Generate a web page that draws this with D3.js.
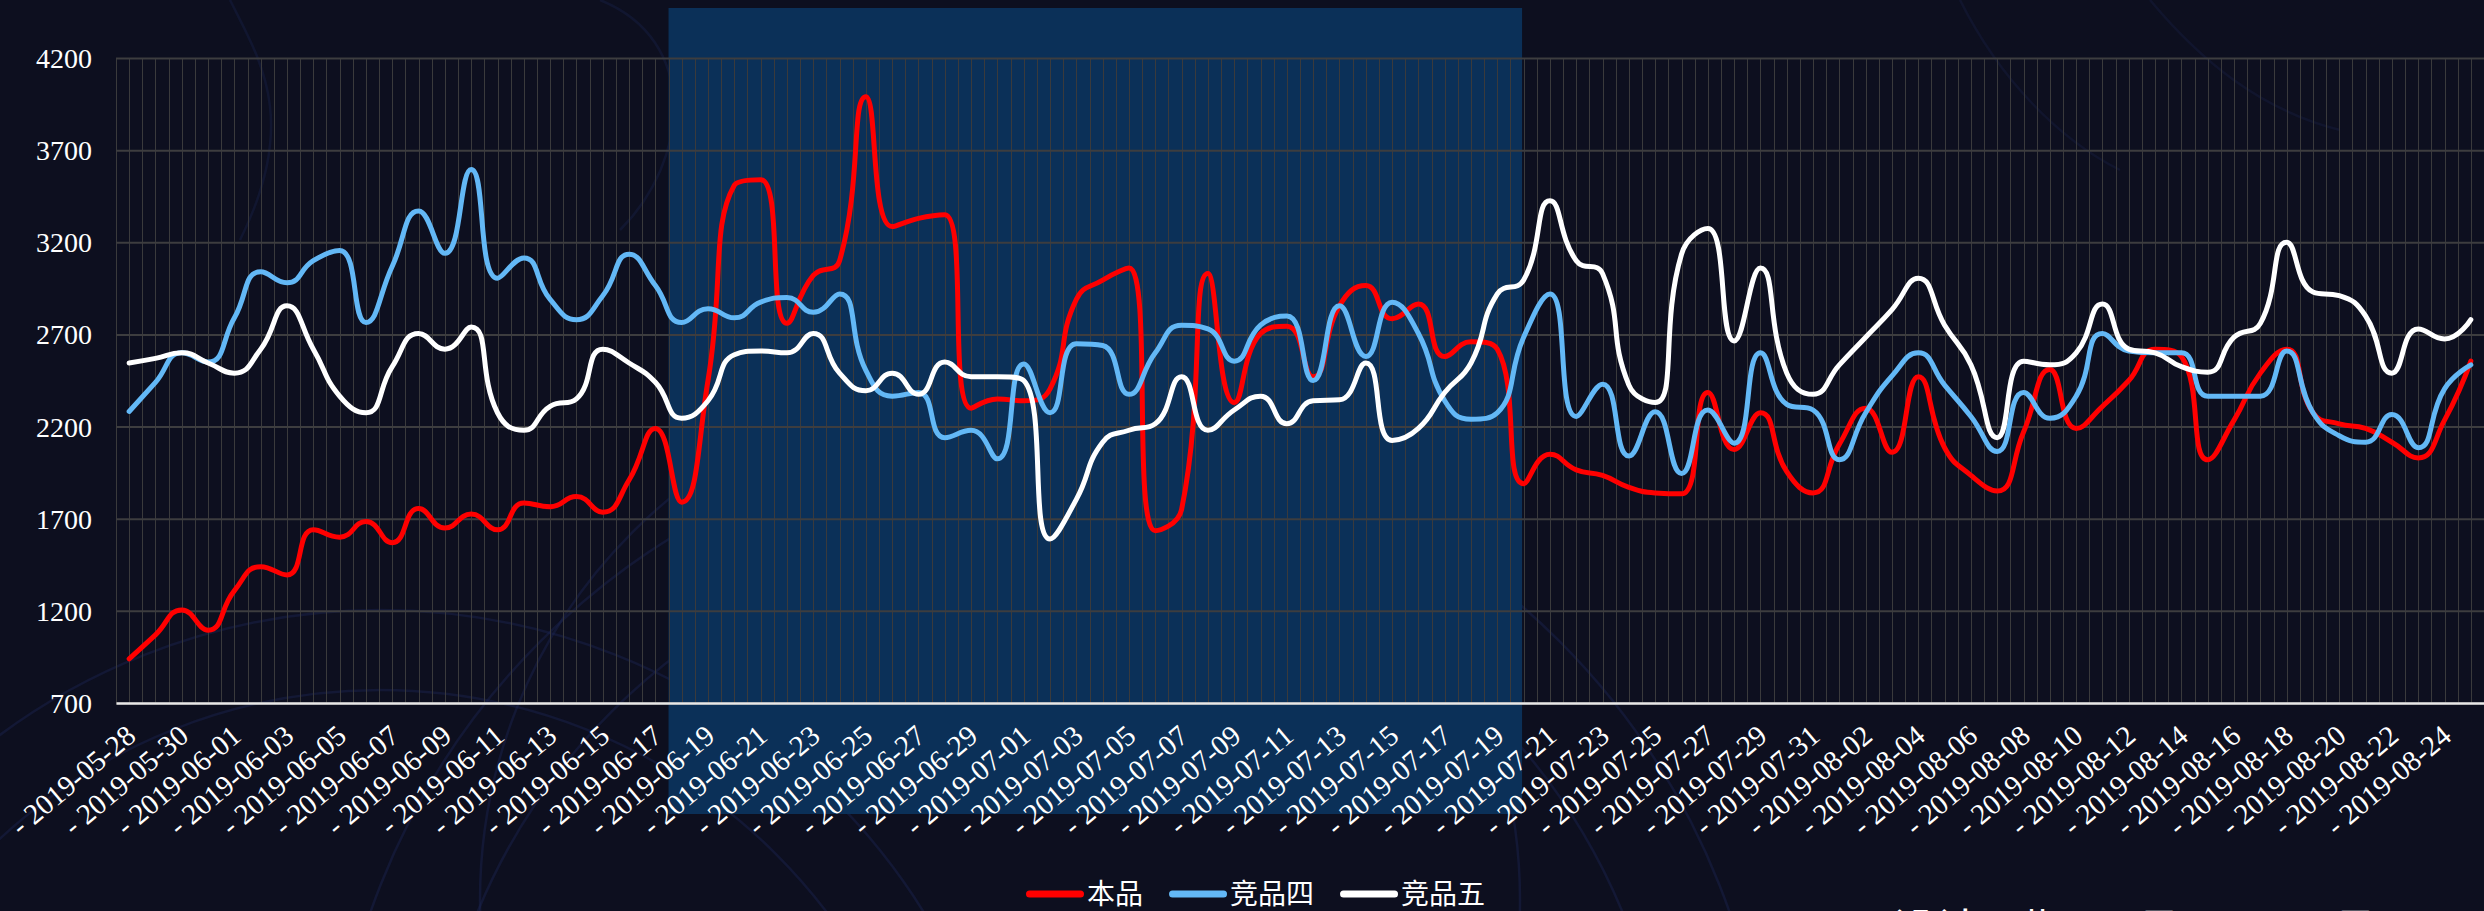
<!DOCTYPE html>
<html><head><meta charset="utf-8">
<script src="https://cdn.jsdelivr.net/npm/d3@7"></script>
<style>html,body{margin:0;padding:0;background:#0d0f1f;overflow:hidden}</style>
</head><body><svg id="chart" width="2484" height="911"></svg>
<script>
const dates = [
"2019-05-28","2019-05-29","2019-05-30","2019-05-31",
"2019-06-01","2019-06-02","2019-06-03","2019-06-04","2019-06-05","2019-06-06","2019-06-07","2019-06-08","2019-06-09","2019-06-10",
"2019-06-11","2019-06-12","2019-06-13","2019-06-14","2019-06-15","2019-06-16","2019-06-17","2019-06-18","2019-06-19","2019-06-20",
"2019-06-21","2019-06-22","2019-06-23","2019-06-24","2019-06-25","2019-06-26","2019-06-27","2019-06-28","2019-06-29","2019-06-30",
"2019-07-01","2019-07-02","2019-07-03","2019-07-04","2019-07-05","2019-07-06","2019-07-07","2019-07-08","2019-07-09","2019-07-10",
"2019-07-11","2019-07-12","2019-07-13","2019-07-14","2019-07-15","2019-07-16","2019-07-17","2019-07-18","2019-07-19","2019-07-20",
"2019-07-21","2019-07-22","2019-07-23","2019-07-24","2019-07-25","2019-07-26","2019-07-27","2019-07-28","2019-07-29","2019-07-30","2019-07-31",
"2019-08-01","2019-08-02","2019-08-03","2019-08-04","2019-08-05","2019-08-06","2019-08-07","2019-08-08","2019-08-09","2019-08-10",
"2019-08-11","2019-08-12","2019-08-13","2019-08-14","2019-08-15","2019-08-16","2019-08-17","2019-08-18","2019-08-19","2019-08-20",
"2019-08-21","2019-08-22","2019-08-23","2019-08-24","2019-08-25"];

const seriesNames = ["本品", "竞品四", "竞品五"];
const seriesColors = ["#ff0000", "#63b8f6", "#ffffff"];

const benpin = [940,1070,1205,1095,1310,1440,1395,1640,1600,1685,1570,1755,1650,1725,1640,1785,1765,1820,1735,1910,
2190,1790,2450,3510,3540,2760,3020,3100,3990,3285,3330,3350,2300,2350,2340,2405,2890,2995,3060,1635,
1750,3030,2330,2705,2745,2470,2855,2965,2785,2865,2580,2660,2620,1890,2050,1965,1935,1870,1840,1835,
2385,2075,2275,1955,1840,2105,2300,2060,2470,2085,1935,1850,2170,2510,2190,2310,2450,2620,2580,2020,
2235,2490,2620,2275,2215,2190,2115,2030,2235,2555];

const jingpin4 = [2282,2440,2600,2550,2790,3040,2980,3100,3155,2765,3070,3370,3140,3595,3005,3115,2890,2780,2910,3135,
2965,2765,2840,2790,2875,2900,2820,2920,2505,2365,2385,2140,2180,2025,2540,2275,2650,2640,2375,2600,
2750,2730,2555,2750,2800,2450,2855,2580,2875,2705,2340,2240,2275,2685,2920,2255,2430,2040,2280,1945,
2290,2110,2600,2320,2290,2020,2275,2475,2600,2425,2255,2065,2385,2245,2365,2705,2610,2600,2600,2365,
2365,2365,2610,2275,2150,2115,2265,2085,2405,2535];

const jingpin5 = [2545,2570,2600,2545,2490,2620,2855,2620,2365,2275,2525,2705,2620,2740,2275,2180,2310,2350,2620,2545,
2440,2245,2340,2590,2610,2600,2705,2490,2395,2490,2375,2550,2470,2470,2450,1590,1805,2115,2180,2215,
2470,2180,2290,2365,2215,2340,2345,2545,2125,2190,2385,2545,2920,2995,3425,3100,3030,2425,2330,3135,
3275,2665,3060,2490,2375,2535,2685,2835,3005,2750,2535,2140,2555,2535,2600,2865,2620,2600,2525,2495,
2685,2760,3200,2930,2910,2800,2490,2730,2675,2780];

const yTicks = [700, 1200, 1700, 2200, 2700, 3200, 3700, 4200];
const xTickLabels = dates.filter((d, i) => i % 2 === 0);
const highlightRange = ["2019-06-18", "2019-07-20"];
const footnote = "设计周期：6月19日 - 7月19日";

// ---------- layout ----------
const W = 2484, H = 911;
const plot = {left: 116, right: 2484, top: 58, bottom: 703};
const svg = d3.select("#chart");

const x = d3.scaleBand().domain(dates).range([plot.left, plot.right]).paddingInner(0).paddingOuter(0);
const bw = x.bandwidth();
const cx = d => x(d) + bw / 2;
const y = d3.scaleLinear().domain([700, 4200]).range([plot.bottom, plot.top]);

// background
svg.append("rect").attr("width", W).attr("height", H).attr("fill", "#0d0f1f");
const deco = svg.append("g").attr("fill", "none").attr("stroke", "#1b2450").attr("stroke-opacity", 0.45).attr("stroke-width", 2.5);
[[380, 1250, 560], [380, 1250, 640], [1050, 1150, 620], [1050, 1150, 720], [1000, 900, 520]].forEach(c => {
  deco.append("circle").attr("cx", c[0]).attr("cy", c[1]).attr("r", c[2]);
});
deco.append("path").attr("d", "M230,0 C260,60 300,120 240,240").attr("stroke-opacity", 0.35);
deco.append("path").attr("d", "M600,0 C700,40 690,160 620,230").attr("stroke-opacity", 0.35);
deco.append("path").attr("d", "M1960,0 C2000,80 2060,140 2120,170").attr("stroke-opacity", 0.3);
deco.append("path").attr("d", "M2150,0 C2200,60 2260,110 2340,130").attr("stroke-opacity", 0.3);

// highlight period
svg.append("rect")
  .attr("x", x(highlightRange[0]))
  .attr("width", x(highlightRange[1]) + bw * 0.44 - x(highlightRange[0]))
  .attr("y", 8).attr("height", 806)
  .attr("fill", "#0b3058");

// vertical grid (band edges and centers)
const vgrid = svg.append("g");
d3.range(0, dates.length * 2 + 1).forEach(k => {
  const gx = Math.round(plot.left + k * x.step() / 2) + 0.5;
  vgrid.append("line").attr("x1", gx).attr("x2", gx).attr("y1", plot.top).attr("y2", plot.bottom)
    .attr("stroke", "#3a3a3c").attr("stroke-width", 1);
});

// y axis with horizontal grid
const yAxis = svg.append("g").attr("transform", `translate(${plot.left},0)`)
  .call(d3.axisLeft(y).tickValues(yTicks).tickSize(-(plot.right - plot.left)).tickPadding(24).tickFormat(d3.format("d")));
yAxis.select(".domain").remove();
yAxis.selectAll(".tick line").attr("stroke", "#3d3d3f").attr("stroke-width", 2);
yAxis.selectAll(".tick text").attr("fill", "#ffffff").attr("font-family", "'Liberation Serif', serif")
  .attr("font-size", 28).attr("dy", "0.34em");

// x axis
const xAxis = svg.append("g").attr("transform", `translate(0,${plot.bottom})`)
  .call(d3.axisBottom(x).tickValues(xTickLabels).tickSize(0).tickFormat(d => "- " + d));
xAxis.select(".domain").attr("stroke", "#e8e8e8").attr("stroke-width", 2.5);
xAxis.selectAll(".tick text")
  .attr("fill", "#ffffff").attr("font-family", "'Liberation Serif', serif").attr("font-size", 29)
  .attr("text-anchor", "end").attr("x", 0).attr("y", 0).attr("dy", "0.35em")
  .attr("transform", "translate(2,28) rotate(-40)");

// ECharts-like smooth curve (clamped control points)
function EChartsCurve(context) { this._context = context; }
EChartsCurve.prototype = {
  areaStart() {}, areaEnd() {},
  lineStart() { this._pts = []; },
  point(px, py) { this._pts.push([+px, +py]); },
  lineEnd() {
    const p = this._pts, n = p.length, ctx = this._context, s = 0.5;
    if (!n) return;
    let prevX = p[0][0], prevY = p[0][1], cpx0 = prevX, cpy0 = prevY;
    ctx.moveTo(prevX, prevY);
    for (let k = 1; k < n; k++) {
      const px = p[k][0], py = p[k][1];
      let cpx1, cpy1, ncx = px, ncy = py;
      if (k + 1 >= n) { cpx1 = px; cpy1 = py; }
      else {
        const nx = p[k + 1][0], ny = p[k + 1][1];
        let vx = nx - prevX, vy = ny - prevY;
        const l0 = Math.hypot(px - prevX, py - prevY), l1 = Math.hypot(nx - px, ny - py);
        const r = l1 / (l0 + l1);
        ncx = px + vx * s * r; ncy = py + vy * s * r;
        ncx = Math.max(Math.min(ncx, Math.max(nx, px)), Math.min(nx, px));
        ncy = Math.max(Math.min(ncy, Math.max(ny, py)), Math.min(ny, py));
        vx = ncx - px; vy = ncy - py;
        cpx1 = px - vx * l0 / l1; cpy1 = py - vy * l0 / l1;
        cpx1 = Math.max(Math.min(cpx1, Math.max(prevX, px)), Math.min(prevX, px));
        cpy1 = Math.max(Math.min(cpy1, Math.max(prevY, py)), Math.min(prevY, py));
        vx = px - cpx1; vy = py - cpy1;
        ncx = px + vx * l1 / l0; ncy = py + vy * l1 / l0;
      }
      ctx.bezierCurveTo(cpx0, cpy0, cpx1, cpy1, px, py);
      cpx0 = ncx; cpy0 = ncy; prevX = px; prevY = py;
    }
  }
};
const curveECharts = ctx => new EChartsCurve(ctx);

const line = d3.line().x((d, i) => cx(dates[i])).y(d => y(d)).curve(curveECharts);
const allSeries = [benpin, jingpin4, jingpin5];
const lines = svg.append("g");
allSeries.forEach((vals, si) => {
  lines.append("path").datum(vals).attr("d", line)
    .attr("fill", "none").attr("stroke", seriesColors[si]).attr("stroke-width", 5)
    .attr("stroke-linecap", "round").attr("stroke-linejoin", "round");
});

// legend
const legend = svg.append("g");
let lx = 1026;
const ly = 894;
seriesNames.forEach((name, si) => {
  legend.append("rect").attr("x", lx).attr("y", ly - 3.5).attr("width", 58).attr("height", 7).attr("rx", 3.5)
    .attr("fill", seriesColors[si]);
  const t = legend.append("text").attr("x", lx + 61).attr("y", ly).attr("dy", "0.36em")
    .attr("fill", "#ffffff").attr("font-family", "'Noto Sans CJK SC', sans-serif").attr("font-size", 28).text(name);
  lx += 61 + t.node().getComputedTextLength() + 26;
});

// footnote (mostly cut off by the bottom edge, as in the reference)
svg.append("text").attr("x", 1892).attr("y", 946).attr("fill", "#ffffff")
  .attr("font-family", "'Noto Sans CJK SC', sans-serif").attr("font-size", 44).text(footnote);
</script></body></html>
